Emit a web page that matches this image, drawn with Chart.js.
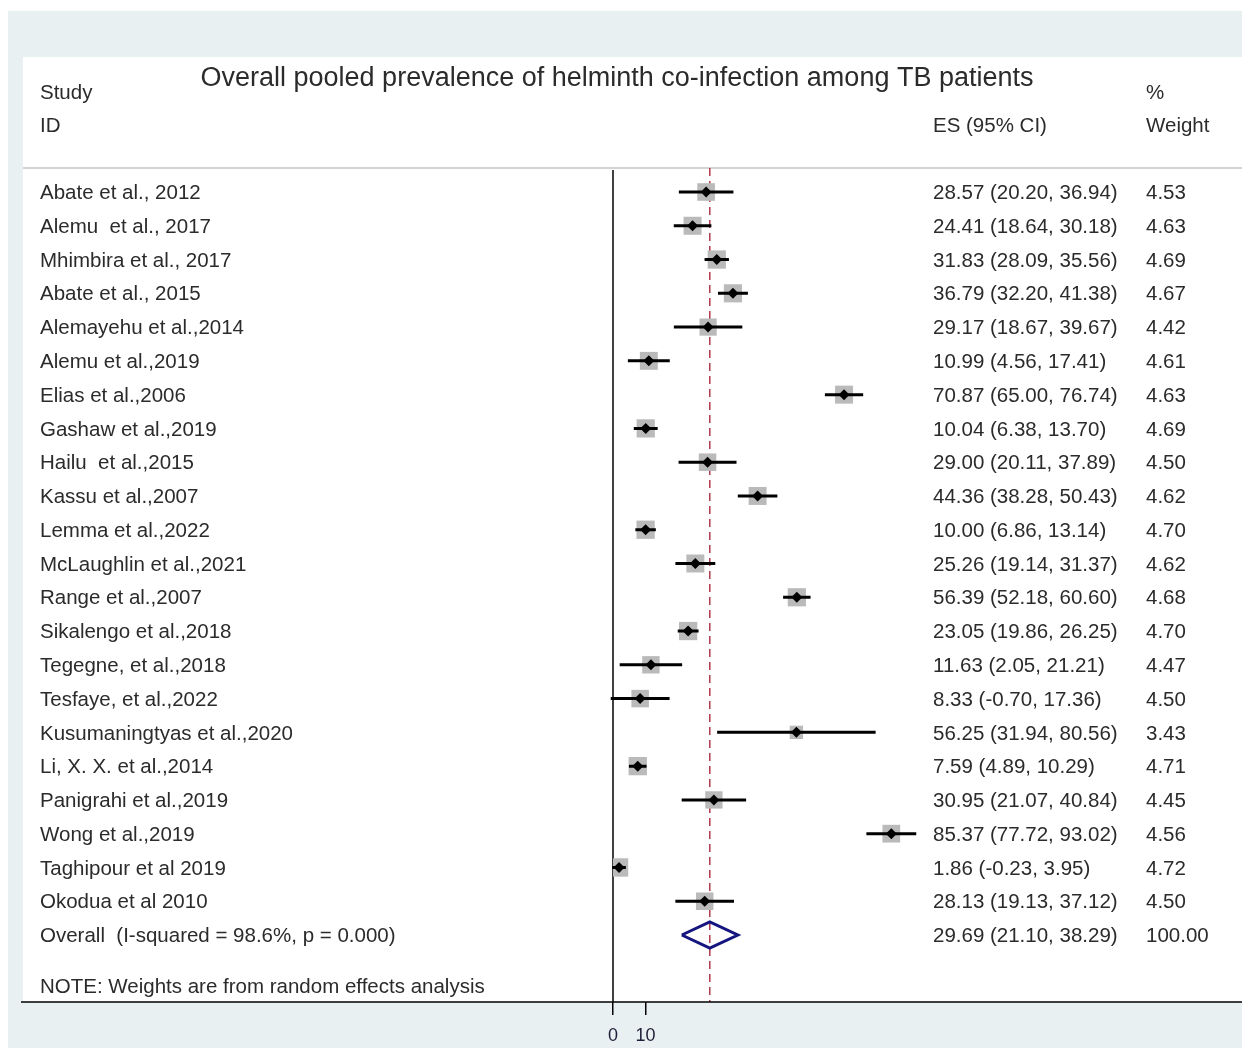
<!DOCTYPE html>
<html>
<head>
<meta charset="utf-8">
<script src="https://cdn.jsdelivr.net/npm/chart.js"></script>
<style>
  html, body { margin: 0; padding: 0; background: #ffffff; }
  #c { display: block; }
</style>
</head>
<body>
<canvas id="c" width="1242" height="1048"></canvas>
<script>
// ---------------- DATA ----------------
const studies = [
  "Abate et al., 2012",
  "Alemu  et al., 2017",
  "Mhimbira et al., 2017",
  "Abate et al., 2015",
  "Alemayehu et al.,2014",
  "Alemu et al.,2019",
  "Elias et al.,2006",
  "Gashaw et al.,2019",
  "Hailu  et al.,2015",
  "Kassu et al.,2007",
  "Lemma et al.,2022",
  "McLaughlin et al.,2021",
  "Range et al.,2007",
  "Sikalengo et al.,2018",
  "Tegegne, et al.,2018",
  "Tesfaye, et al.,2022",
  "Kusumaningtyas et al.,2020",
  "Li, X. X. et al.,2014",
  "Panigrahi et al.,2019",
  "Wong et al.,2019",
  "Taghipour et al 2019",
  "Okodua et al 2010"
];
const esValues = [28.57, 24.41, 31.83, 36.79, 29.17, 10.99, 70.87, 10.04, 29.00, 44.36, 10.00, 25.26, 56.39, 23.05, 11.63, 8.33, 56.25, 7.59, 30.95, 85.37, 1.86, 28.13];
const ciLower  = [20.20, 18.64, 28.09, 32.20, 18.67, 4.56, 65.00, 6.38, 20.11, 38.28, 6.86, 19.14, 52.18, 19.86, 2.05, -0.70, 31.94, 4.89, 21.07, 77.72, -0.23, 19.13];
const ciUpper  = [36.94, 30.18, 35.56, 41.38, 39.67, 17.41, 76.74, 13.70, 37.89, 50.43, 13.14, 31.37, 60.60, 26.25, 21.21, 17.36, 80.56, 10.29, 40.84, 93.02, 3.95, 37.12];
const weights  = [4.53, 4.63, 4.69, 4.67, 4.42, 4.61, 4.63, 4.69, 4.50, 4.62, 4.70, 4.62, 4.68, 4.70, 4.47, 4.50, 3.43, 4.71, 4.45, 4.56, 4.72, 4.50];

const overallLabel  = "Overall  (I-squared = 98.6%, p = 0.000)";
const overallES     = 29.69;
const overallLower  = 21.10;
const overallUpper  = 38.29;
const overallWeight = 100.00;

const xTicks = [0, 10];

const titleText = "Overall pooled prevalence of helminth co-infection among TB patients";
const noteText  = "NOTE: Weights are from random effects analysis";

// ---------------- BUILD DATASETS ----------------
const rowOf = i => i + 1;
const overallRow = studies.length + 1;

const ciData = [];
studies.forEach((s, i) => {
  ciData.push({ x: ciLower[i], y: rowOf(i) });
  ciData.push({ x: ciUpper[i], y: rowOf(i) });
  ciData.push({ x: null, y: null });
});

const boxData = studies.map((s, i) => ({ x: esValues[i], y: rowOf(i) }));
const boxRadius = weights.map(w => w * 2.75);

const diamondHalf = 0.385;
const diamondData = [
  { x: overallLower, y: overallRow },
  { x: overallES, y: overallRow - diamondHalf },
  { x: overallUpper, y: overallRow },
  { x: overallES, y: overallRow + diamondHalf },
  { x: overallLower, y: overallRow }
];

const FONT = "'Liberation Sans', Arial, sans-serif";
const TEXT_COLOR = "#2b2b2b";

// ---------------- PLUGINS ----------------
const framePlugin = {
  id: 'frame',
  beforeDraw(chart) {
    const ctx = chart.ctx;
    ctx.save();
    ctx.fillStyle = '#ffffff';
    ctx.fillRect(0, 0, 1242, 1048);
    ctx.fillStyle = '#e9f0f2';
    ctx.fillRect(8, 11, 1234, 1037);
    ctx.fillStyle = '#ffffff';
    ctx.fillRect(23, 57, 1219, 945);
    // header separator
    ctx.strokeStyle = '#c4c4c4';
    ctx.lineWidth = 1.5;
    ctx.beginPath();
    ctx.moveTo(23, 168);
    ctx.lineTo(1242, 168);
    ctx.stroke();
    ctx.restore();
  },
  beforeDatasetsDraw(chart) {
    const ctx = chart.ctx;
    const xs = chart.scales.x;
    const area = chart.chartArea;
    ctx.save();
    // vertical null line at x = 0
    const x0 = xs.getPixelForValue(0);
    ctx.strokeStyle = '#000000';
    ctx.lineWidth = 1.5;
    ctx.beginPath();
    ctx.moveTo(x0, area.top + 1);
    ctx.lineTo(x0, area.bottom);
    ctx.stroke();
    // dashed overall line
    const xo = xs.getPixelForValue(overallES);
    ctx.strokeStyle = '#b23a4a';
    ctx.lineWidth = 1.5;
    ctx.setLineDash([8, 5]);
    ctx.beginPath();
    ctx.moveTo(xo, area.top - 1);
    ctx.lineTo(xo, area.bottom);
    ctx.stroke();
    ctx.setLineDash([]);
    // bottom axis line spanning the panel
    ctx.strokeStyle = '#000000';
    ctx.lineWidth = 1.5;
    ctx.beginPath();
    ctx.moveTo(21, area.bottom);
    ctx.lineTo(1242, area.bottom);
    ctx.stroke();
    ctx.restore();
  },
  afterDraw(chart) {
    const ctx = chart.ctx;
    const ys = chart.scales.y;
    ctx.save();
    ctx.fillStyle = TEXT_COLOR;
    ctx.textBaseline = 'middle';
    // title
    ctx.font = "27px " + FONT;
    ctx.textAlign = 'center';
    ctx.fillText(titleText, 617, 79);
    // headers
    ctx.font = "20.5px " + FONT;
    ctx.textAlign = 'left';
    ctx.fillText("Study", 40, 93);
    ctx.fillText("ID", 40, 126);
    ctx.fillText("ES (95% CI)", 933, 126);
    ctx.fillText("%", 1146, 93);
    ctx.fillText("Weight", 1146, 126);
    // rows
    studies.forEach((s, i) => {
      const y = ys.getPixelForValue(rowOf(i)) + 1.5;
      ctx.fillText(s, 40, y);
      ctx.fillText(esValues[i].toFixed(2) + " (" + ciLower[i].toFixed(2) + ", " + ciUpper[i].toFixed(2) + ")", 933, y);
      ctx.fillText(weights[i].toFixed(2), 1146, y);
    });
    const yo = ys.getPixelForValue(overallRow) + 1.5;
    ctx.fillText(overallLabel, 40, yo);
    ctx.fillText(overallES.toFixed(2) + " (" + overallLower.toFixed(2) + ", " + overallUpper.toFixed(2) + ")", 933, yo);
    ctx.fillText(overallWeight.toFixed(2), 1146, yo);
    // note
    ctx.fillText(noteText, 40, 987);
    ctx.restore();
  }
};

// ---------------- CHART ----------------
new Chart(document.getElementById('c'), {
  type: 'scatter',
  data: {
    datasets: [
      {
        type: 'scatter',
        label: 'weight box',
        data: boxData,
        pointStyle: 'rect',
        pointRadius: boxRadius,
        pointHoverRadius: boxRadius,
        backgroundColor: '#bababa',
        borderWidth: 0,
        order: 3
      },
      {
        type: 'line',
        label: 'CI',
        data: ciData,
        borderColor: '#000000',
        borderWidth: 3,
        pointRadius: 0,
        spanGaps: false,
        fill: false,
        clip: false,
        order: 2
      },
      {
        type: 'scatter',
        label: 'ES',
        data: boxData,
        pointStyle: 'rectRot',
        pointRadius: 5.5,
        backgroundColor: '#000000',
        borderWidth: 0,
        order: 1
      },
      {
        type: 'line',
        label: 'Overall',
        data: diamondData,
        borderColor: '#151580',
        borderWidth: 3,
        pointRadius: 0,
        fill: false,
        tension: 0,
        clip: false,
        order: 0
      }
    ]
  },
  options: {
    responsive: false,
    animation: false,
    events: [],
    layout: { padding: { left: 613, right: 303, top: 169, bottom: 0 } },
    plugins: { legend: { display: false }, tooltip: { enabled: false }, title: { display: false } },
    scales: {
      x: {
        type: 'linear',
        min: 0,
        max: 100,
        afterBuildTicks: s => { s.ticks = xTicks.map(v => ({ value: v })); },
        afterFit: s => { s.height = 46; },
        grid: { display: true, drawOnChartArea: false, drawTicks: true, tickLength: 13, color: '#000000', lineWidth: 1.5 },
        border: { display: false },
        ticks: { font: { family: FONT, size: 18 }, color: '#1f1f3a', padding: 10, maxRotation: 0, autoSkip: false }
      },
      y: {
        type: 'linear',
        display: false,
        reverse: true,
        min: 0.319,
        max: 24.984
      }
    }
  },
  plugins: [framePlugin]
});
</script>
</body>
</html>
